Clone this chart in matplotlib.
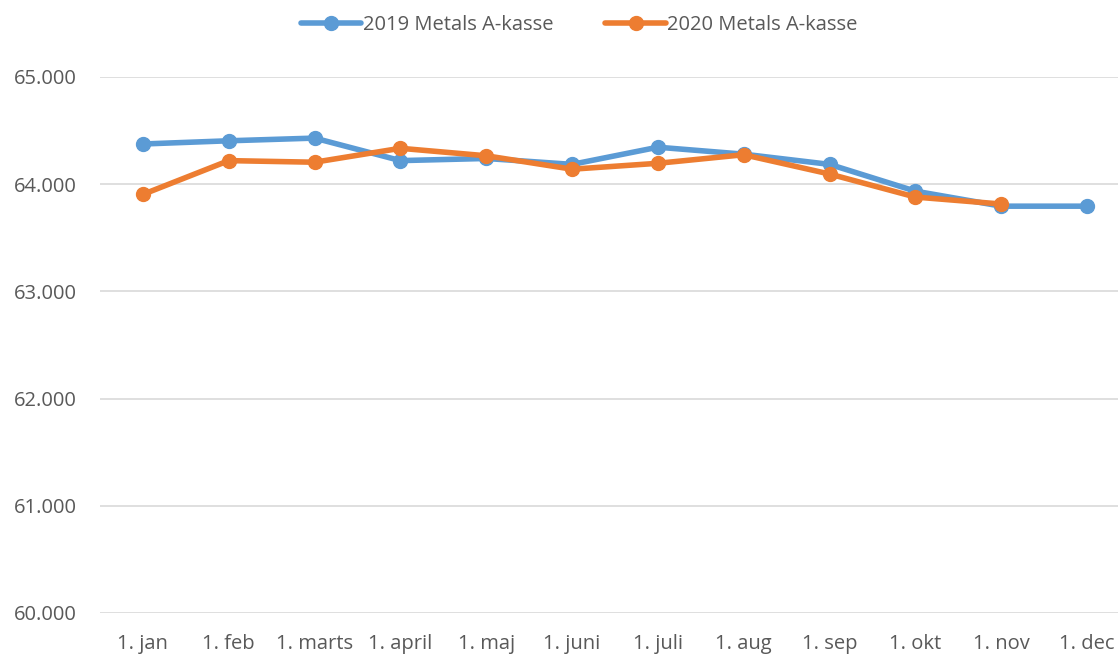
import matplotlib
matplotlib.use("Agg")
import matplotlib.pyplot as plt

categories = ["1. jan", "1. feb", "1. marts", "1. april", "1. maj", "1. juni",
              "1. juli", "1. aug", "1. sep", "1. okt", "1. nov", "1. dec"]
values_2019 = [64.375, 64.405, 64.43, 64.22, 64.24, 64.185, 64.345, 64.28, 64.185, 63.935, 63.795, 63.795]
values_2020 = [63.905, 64.22, 64.205, 64.335, 64.265, 64.14, 64.195, 64.275, 64.095, 63.88, 63.815]
yticks = [60, 61, 62, 63, 64, 65]
ytick_labels = ["60.000", "61.000", "62.000", "63.000", "64.000", "65.000"]

plt.rcParams['font.family'] = ['Open Sans', 'DejaVu Sans']

fig = plt.figure(figsize=(11.18, 6.57), dpi=100)
ax = fig.add_axes([100/1118, (657-613)/657, 1018/1118, 536/657])

blue = "#5B9BD5"
orange = "#ED7D31"
ax.plot(range(len(values_2019)), values_2019, color=blue, lw=4, marker="o", ms=10,
        label="2019 Metals A-kasse", solid_capstyle="round", zorder=3)
ax.plot(range(len(values_2020)), values_2020, color=orange, lw=4, marker="o", ms=10,
        label="2020 Metals A-kasse", solid_capstyle="round", zorder=4)

ax.set_ylim(60, 65)
ax.set_xlim(-0.5, 11.36)
ax.set_yticks(yticks)
ax.set_yticklabels(ytick_labels)
ax.set_xticks(range(len(categories)))
ax.set_xticklabels(categories)
ax.tick_params(axis="both", length=0, labelsize=14.5, colors="#595959")
ax.tick_params(axis="y", pad=16.5)
ax.tick_params(axis="x", pad=15)
ax.grid(axis="y", color="#D9D9D9", lw=1.2)
ax.set_axisbelow(True)
for s in ax.spines.values():
    s.set_visible(False)

leg = fig.legend(loc="center", bbox_to_anchor=(0.518, 1 - 25/657), ncol=2, frameon=False,
                 fontsize=14.5, handlelength=3.0, columnspacing=2.6, handletextpad=0.05)
for t in leg.get_texts():
    t.set_color("#595959")

fig.savefig("out.png", dpi=100)
